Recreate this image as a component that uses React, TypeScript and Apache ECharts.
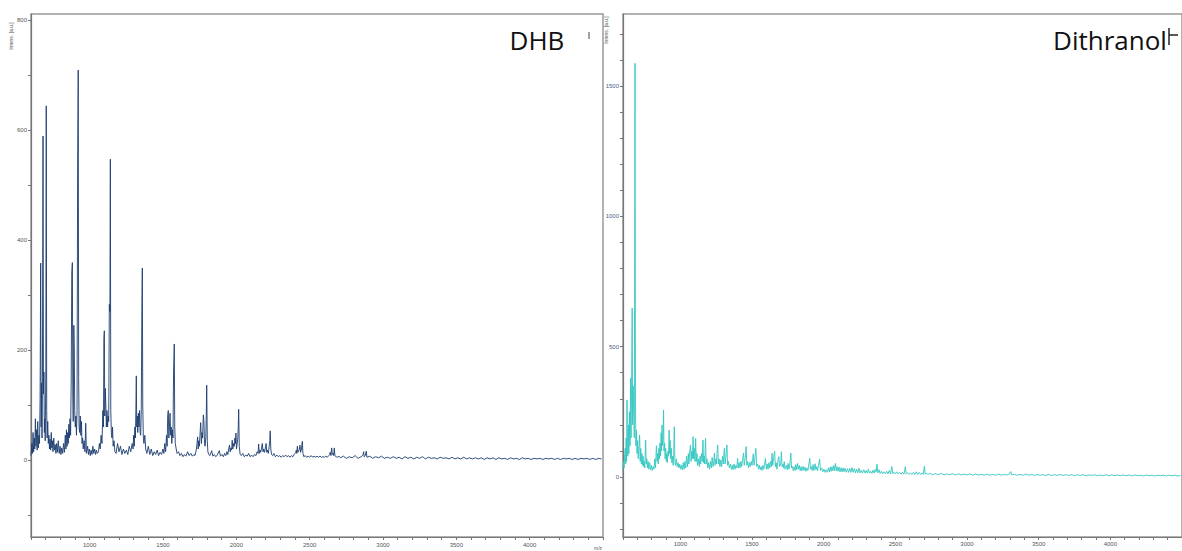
import React, { useEffect, useRef } from "react";
import * as echarts from "echarts";

// ---- DATA ----
const dhbTitle = "DHB";
const dithranolTitle = "Dithranol";
const yAxisName = "Intens. [a.u.]";
const xAxisName = "m/z";

const dhbYLabels = [0, 200, 400, 600, 800];
const dhbYTicks = [-100, 0, 100, 200, 300, 400, 500, 600, 700, 800];
const dithYLabels = [0, 500, 1000, 1500];
const dithYTicks = [-200, -100, 0, 100, 200, 300, 400, 500, 600, 700, 800, 900, 1000, 1100, 1200, 1300, 1400, 1500, 1600, 1700];
const xLabels = [1000, 1500, 2000, 2500, 3000, 3500, 4000];

// DHB spectrum [m/z, intensity]
const dhbLowMass: [number, number][] = [
  [600, 8], [606, 30], [610, 12], [614, 50], [618, 15], [622, 40], [626, 20], [630, 75], [634, 25], [638, 55],
  [642, 18], [646, 70], [650, 22], [654, 45], [658, 30], [662, 110], [666, 358], [669, 60], [672, 140], [675, 40],
  [678, 150], [682, 589], [685, 120], [688, 160], [691, 50], [694, 75], [697, 35], [701, 160], [704, 644], [707, 90],
  [710, 40], [714, 70], [718, 30], [722, 45], [726, 20], [730, 38], [734, 18], [738, 50], [742, 22], [746, 35],
  [750, 15], [755, 40], [760, 18], [765, 28], [770, 12], [775, 30], [780, 14], [786, 35], [792, 12], [798, 25],
  [804, 10], [810, 22], [816, 12], [822, 30], [828, 14], [834, 45], [838, 20], [842, 55], [846, 25], [850, 50],
  [854, 30], [858, 65], [862, 40], [866, 75], [870, 45], [874, 140], [878, 340], [882, 359], [885, 120], [888, 70],
  [892, 245], [895, 200], [898, 90], [902, 60], [906, 80], [910, 45], [914, 90], [918, 535], [922, 709], [925, 150],
  [928, 60], [932, 50], [936, 80], [940, 45], [944, 70], [948, 30], [952, 40], [956, 20], [962, 35], [968, 15],
  [973, 67], [978, 12], [986, 25], [992, 10], [998, 20], [1004, 8], [1010, 18], [1016, 10], [1022, 25], [1028, 12],
  [1034, 20], [1040, 10], [1046, 18], [1052, 12], [1060, 15], [1066, 30], [1072, 20], [1078, 45], [1084, 30], [1090, 90],
  [1094, 60], [1097, 220], [1100, 235], [1103, 80], [1107, 130], [1110, 100], [1114, 60], [1118, 90], [1122, 60], [1126, 80],
  [1130, 70], [1134, 283], [1138, 270], [1141, 547], [1144, 90], [1148, 50], [1152, 40], [1156, 60], [1160, 25], [1166, 35],
  [1172, 15], [1180, 12], [1190, 30], [1200, 15], [1210, 25], [1220, 10], [1230, 20], [1240, 12], [1250, 18], [1260, 10],
  [1270, 25], [1280, 15], [1290, 30], [1296, 20], [1300, 45], [1304, 25], [1308, 60], [1312, 40], [1315, 90], [1318, 153],
  [1321, 60], [1325, 80], [1328, 50], [1332, 85], [1336, 60], [1340, 90], [1344, 50], [1348, 45], [1352, 95], [1356, 280],
  [1359, 349], [1362, 100], [1366, 40], [1370, 30], [1376, 45], [1382, 20], [1390, 12], [1400, 25], [1410, 10], [1420, 20],
  [1430, 8], [1440, 15], [1450, 10], [1460, 18], [1470, 8], [1480, 14], [1490, 10], [1500, 20], [1506, 12], [1512, 30],
  [1518, 15], [1524, 45], [1528, 25], [1532, 80], [1536, 90], [1540, 40], [1544, 60], [1548, 85], [1552, 45], [1556, 60],
  [1560, 30], [1564, 55], [1568, 40], [1572, 160], [1577, 211], [1580, 60], [1584, 30], [1590, 20], [1596, 12],
];
const dhbMidMass: [number, number][] = [
  [1606, 15], [1616, 8], [1626, 12], [1636, 6], [1646, 10], [1656, 7], [1668, 15], [1678, 8], [1690, 12], [1700, 7],
  [1710, 10], [1718, 8], [1724, 15], [1728, 20], [1732, 30], [1736, 42], [1740, 20], [1744, 35], [1748, 25], [1752, 45],
  [1757, 68], [1762, 30], [1766, 50], [1770, 40], [1775, 82], [1779, 71], [1783, 30], [1787, 25], [1792, 40], [1795, 80],
  [1798, 136], [1802, 35], [1806, 15], [1812, 10], [1820, 8], [1832, 17], [1840, 7], [1850, 10], [1860, 6], [1870, 9],
  [1884, 17], [1892, 7], [1902, 10], [1912, 6], [1920, 12], [1928, 8], [1936, 15], [1942, 10], [1948, 20], [1953, 27],
  [1958, 15], [1963, 22], [1968, 18], [1972, 36], [1976, 20], [1982, 30], [1986, 25], [1990, 40], [1994, 30], [1997, 49],
  [2001, 20], [2006, 30], [2010, 40], [2013, 60], [2016, 92], [2020, 25], [2026, 10], [2034, 8], [2044, 12], [2054, 6],
  [2064, 9], [2074, 7], [2084, 12], [2094, 6], [2104, 9], [2114, 6], [2124, 10], [2134, 8], [2142, 15], [2148, 12],
  [2152, 29], [2156, 12], [2162, 18], [2166, 14], [2172, 22], [2177, 30], [2182, 15], [2186, 20], [2192, 14], [2198, 22],
  [2203, 30], [2207, 14], [2212, 18], [2218, 12], [2224, 25], [2228, 35], [2231, 53], [2235, 20], [2240, 10], [2248, 8],
  [2256, 12], [2266, 6], [2276, 9], [2286, 6], [2296, 8], [2306, 5], [2316, 8], [2326, 6], [2336, 9], [2346, 6],
  [2356, 8], [2366, 5], [2376, 8], [2386, 6], [2394, 10], [2400, 12], [2405, 14], [2409, 18], [2412, 12], [2416, 25],
  [2420, 14], [2425, 16], [2430, 20], [2434, 27], [2438, 14], [2444, 20], [2450, 34], [2454, 12], [2460, 6], [2470, 8],
  [2480, 5], [2490, 7], [2500, 5], [2510, 8], [2520, 5], [2530, 7], [2540, 5], [2550, 7], [2560, 5], [2570, 7],
  [2580, 5], [2590, 6], [2600, 5], [2610, 7], [2620, 5], [2630, 8], [2636, 10], [2640, 14], [2645, 8], [2650, 22],
  [2655, 10], [2660, 12], [2664, 8], [2668, 22], [2672, 8], [2680, 6], [2690, 5], [2700, 7],
];
const dhbTail: [number, number][] = [
  [2710, 4], [2730, 7], [2750, 3], [2770, 6], [2790, 4], [2810, 8], [2830, 3], [2850, 6], [2860, 8], [2864, 10],
  [2868, 15], [2872, 6], [2880, 9], [2886, 16], [2890, 5], [2910, 7], [2930, 3], [2950, 6], [2970, 4], [2990, 7],
  [3010, 3], [3030, 5], [3050, 3], [3070, 6], [3090, 3], [3110, 5], [3130, 2], [3150, 6], [3170, 3], [3190, 5],
  [3210, 2], [3230, 5], [3250, 3], [3270, 6], [3290, 2], [3310, 5], [3330, 3], [3350, 4], [3370, 2], [3390, 5],
  [3410, 3], [3430, 4], [3450, 2], [3470, 5], [3490, 2], [3510, 4], [3530, 2], [3550, 5], [3570, 2], [3590, 4],
  [3610, 2], [3630, 4], [3650, 2], [3670, 4], [3690, 1], [3710, 4], [3730, 2], [3750, 4], [3770, 1], [3790, 4],
  [3810, 2], [3830, 3], [3850, 1], [3870, 4], [3890, 2], [3910, 3], [3930, 1], [3950, 4], [3970, 2], [3990, 3],
  [4010, 1], [4030, 3], [4050, 2], [4070, 3], [4090, 1], [4110, 3], [4130, 2], [4150, 3], [4170, 1], [4190, 3],
  [4210, 1], [4230, 3], [4250, 2], [4270, 3], [4290, 1], [4310, 3], [4330, 1], [4350, 3], [4370, 2], [4390, 3],
  [4410, 1], [4430, 3], [4450, 1], [4470, 3], [4490, 2],
];

// Dithranol spectrum [m/z, intensity]
const dithLowMass: [number, number][] = [
  [600, 30], [604, 60], [608, 35], [612, 90], [616, 111], [619, 50], [622, 150], [625, 60], [628, 296], [631, 120],
  [634, 80], [638, 200], [641, 90], [645, 250], [649, 120], [653, 380], [656, 150], [660, 350], [664, 648], [667, 200],
  [671, 350], [675, 350], [679, 150], [684, 1587], [687, 280], [690, 120], [694, 180], [698, 90], [702, 140], [706, 70],
  [710, 100], [716, 161], [720, 60], [724, 110], [728, 50], [732, 90], [736, 45], [740, 80], [744, 40], [748, 60],
  [752, 35], [758, 142], [762, 50], [766, 70], [770, 35], [775, 60], [780, 30], [786, 55], [792, 28], [798, 45],
  [804, 25], [810, 40], [816, 30], [822, 70], [827, 35], [833, 120], [838, 60], [842, 90], [846, 50], [850, 110],
  [854, 70], [858, 130], [862, 80], [866, 170], [869, 100], [872, 200], [876, 120], [880, 150], [883, 257], [886, 100],
  [890, 130], [894, 70], [898, 110], [902, 60], [906, 90], [910, 55], [914, 100], [918, 80], [922, 180], [925, 90],
  [929, 140], [933, 70], [937, 110], [941, 55], [946, 80], [950, 45], [954, 90], [958, 193], [962, 60], [966, 45],
  [972, 70], [978, 40], [984, 55], [990, 35], [996, 50], [1002, 30], [1008, 45], [1014, 28], [1020, 55], [1026, 30],
  [1032, 60], [1038, 35], [1044, 80], [1050, 40], [1056, 90], [1060, 50], [1066, 100], [1071, 123], [1075, 60], [1080, 100],
  [1084, 70], [1089, 155], [1093, 70], [1098, 110], [1102, 60], [1107, 148], [1111, 60], [1116, 90], [1120, 45], [1126, 70],
  [1132, 40], [1138, 80], [1142, 50], [1148, 90], [1153, 60], [1158, 142], [1162, 55], [1166, 80], [1170, 50], [1176, 148],
  [1180, 50], [1186, 70], [1192, 35], [1198, 55], [1204, 30], [1210, 60], [1216, 35], [1222, 75], [1228, 40], [1233, 60],
  [1238, 92], [1242, 45], [1248, 70], [1252, 50], [1256, 90], [1261, 123], [1265, 50], [1270, 70], [1276, 40], [1282, 65],
  [1288, 40], [1294, 80], [1300, 50], [1307, 110], [1312, 50], [1318, 80], [1325, 123], [1330, 45], [1336, 60], [1342, 35],
  [1350, 50], [1356, 30], [1362, 45], [1368, 28], [1375, 50], [1382, 30], [1388, 45], [1394, 35], [1400, 71], [1405, 35],
  [1410, 55], [1416, 35], [1422, 60], [1428, 40], [1435, 70], [1441, 92], [1446, 45], [1452, 70], [1459, 117], [1464, 45],
  [1470, 60], [1476, 35], [1482, 55], [1488, 40], [1494, 60], [1500, 45], [1505, 70], [1509, 89], [1514, 45], [1520, 70],
  [1527, 110], [1532, 40], [1540, 50], [1546, 30], [1552, 45], [1558, 28], [1564, 40], [1570, 25], [1576, 45], [1582, 30],
  [1588, 50], [1594, 71], [1600, 30],
];
const dithMidMass: [number, number][] = [
  [1606, 50], [1612, 30], [1618, 55], [1624, 35], [1630, 60], [1635, 40], [1640, 92], [1645, 45], [1650, 70], [1658, 99],
  [1663, 40], [1668, 55], [1674, 30], [1680, 60], [1687, 78], [1692, 40], [1700, 50], [1705, 97], [1710, 40], [1716, 50],
  [1720, 35], [1725, 59], [1730, 30], [1740, 45], [1746, 28], [1752, 52], [1758, 30], [1764, 50], [1771, 92], [1776, 35],
  [1782, 40], [1788, 25], [1794, 40], [1800, 25], [1806, 48], [1812, 28], [1818, 52], [1824, 30], [1830, 44], [1836, 25],
  [1842, 40], [1848, 24], [1856, 41], [1862, 25], [1870, 38], [1876, 22], [1882, 35], [1890, 25], [1897, 50], [1903, 72],
  [1908, 30], [1914, 40], [1920, 25], [1926, 48], [1932, 25], [1940, 51], [1946, 28], [1952, 40], [1958, 25], [1964, 45],
  [1972, 68], [1978, 25], [1986, 35], [1994, 20], [2002, 30], [2010, 18], [2018, 28], [2026, 18], [2034, 35], [2040, 20],
  [2046, 38], [2052, 22], [2058, 40], [2064, 24], [2070, 44], [2076, 25], [2082, 52], [2088, 24], [2094, 40], [2100, 22],
  [2108, 38], [2114, 20], [2122, 36], [2128, 20], [2136, 35], [2142, 20], [2150, 34], [2158, 18], [2166, 32], [2174, 18],
  [2182, 34], [2190, 18], [2198, 36], [2206, 18], [2214, 32], [2222, 16], [2230, 30], [2238, 16], [2246, 34], [2254, 16],
  [2262, 26], [2270, 15], [2280, 28], [2288, 15], [2296, 25], [2304, 15], [2312, 30], [2320, 15], [2328, 22], [2336, 14],
  [2344, 26], [2352, 15], [2360, 30], [2366, 20], [2372, 50], [2378, 16], [2386, 28], [2394, 14], [2404, 22], [2412, 13],
  [2422, 20], [2430, 13], [2440, 22], [2448, 12], [2458, 25], [2466, 12], [2476, 40], [2482, 13], [2492, 18], [2500, 12],
  [2510, 20], [2520, 12], [2530, 18], [2540, 11], [2550, 18], [2560, 11], [2570, 40], [2576, 12], [2586, 16], [2596, 11],
  [2606, 15], [2616, 10], [2626, 18], [2636, 10], [2646, 20], [2656, 10], [2666, 18], [2676, 10], [2686, 16], [2694, 10],
  [2703, 42], [2708, 11], [2718, 14], [2728, 10],
];
const dithTail: [number, number][] = [
  [2740, 14], [2760, 9], [2780, 13], [2800, 9], [2820, 14], [2840, 8], [2860, 12], [2880, 9], [2900, 13], [2920, 8],
  [2940, 12], [2960, 8], [2980, 11], [3000, 8], [3020, 12], [3040, 7], [3060, 11], [3080, 8], [3100, 10], [3120, 7],
  [3140, 11], [3160, 7], [3180, 10], [3200, 7], [3220, 11], [3240, 7], [3260, 10], [3280, 8], [3296, 12], [3305, 21],
  [3312, 8], [3330, 10], [3350, 7], [3370, 10], [3390, 7], [3410, 11], [3430, 7], [3450, 10], [3470, 6], [3490, 10],
  [3510, 7], [3530, 9], [3550, 6], [3570, 10], [3590, 6], [3610, 9], [3630, 6], [3650, 10], [3670, 6], [3690, 9],
  [3710, 6], [3730, 9], [3750, 5], [3770, 9], [3790, 6], [3810, 9], [3830, 5], [3850, 8], [3870, 6], [3890, 9],
  [3910, 5], [3930, 8], [3950, 5], [3970, 9], [3990, 5], [4010, 8], [4030, 5], [4050, 8], [4070, 5], [4090, 8],
  [4110, 5], [4130, 8], [4150, 4], [4170, 8], [4190, 5], [4210, 7], [4230, 4], [4250, 8], [4270, 5], [4290, 7],
  [4310, 4], [4330, 7], [4350, 5], [4370, 7], [4390, 4], [4410, 7], [4430, 5], [4450, 7], [4470, 4], [4490, 6],
];

const dhbSpectrum = [...dhbLowMass, ...dhbMidMass, ...dhbTail];
const dithranolSpectrum = [...dithLowMass, ...dithMidMass, ...dithTail];

const plain = (v: number) => String(v);
const labelStyle = { fontSize: 6, color: "#555", fontFamily: "Liberation Sans, Arial, sans-serif", formatter: plain };

export default function App() {
  const ref = useRef<HTMLDivElement>(null);
  useEffect(() => {
    if (!ref.current) return;
    const chart = echarts.init(ref.current, null, { renderer: "svg" });
    const axisLine = { show: true, onZero: false, lineStyle: { color: "#777", width: 1.2 } };
    const tick = { show: true, length: 3, inside: false, lineStyle: { color: "#777" } };
    chart.setOption({
      animation: false,
      backgroundColor: "#fff",
      grid: [
        { left: 31, top: 14, width: 572, height: 523, show: true, borderColor: "#999", borderWidth: 1.5, containLabel: false },
        { left: 623, top: 14, width: 569, height: 523, show: true, borderColor: "#999", borderWidth: 1.5, containLabel: false },
      ],
      xAxis: [
        {
          type: "value", gridIndex: 0, min: 600, max: 4500, interval: 100,
          axisLine, axisTick: tick, splitLine: { show: false },
          axisLabel: { ...labelStyle, customValues: xLabels, margin: 5 },
        },
        {
          type: "value", gridIndex: 1, min: 600, max: 4500, interval: 100,
          axisLine, axisTick: tick, splitLine: { show: false },
          axisLabel: { ...labelStyle, customValues: xLabels, margin: 4 },
        },
      ],
      yAxis: [
        {
          type: "value", gridIndex: 0, min: -140, max: 811,
          axisLine, splitLine: { show: false },
          axisTick: { ...tick, customValues: dhbYTicks },
          axisLabel: { ...labelStyle, customValues: dhbYLabels, margin: 4 },
        },
        {
          type: "value", gridIndex: 1, min: -230, max: 1776,
          axisLine, splitLine: { show: false },
          axisTick: { ...tick, customValues: dithYTicks },
          axisLabel: { ...labelStyle, color: "#4a5b8c", customValues: dithYLabels, margin: 4 },
        },
      ],
      series: [
        {
          type: "line", xAxisIndex: 0, yAxisIndex: 0, data: dhbSpectrum, showSymbol: false, symbol: "none",
          lineStyle: { color: "#1b3c6e", width: 0.9 }, silent: true,
        },
        {
          type: "line", xAxisIndex: 1, yAxisIndex: 1, data: dithranolSpectrum, showSymbol: false, symbol: "none",
          lineStyle: { color: "#33c6c0", width: 0.9 }, silent: true,
        },
      ],
      graphic: [
        { type: "text", x: 537, y: 40, style: { text: dhbTitle, font: "26px 'Open Sans', sans-serif", fill: "#111", align: "center", verticalAlign: "middle" } },
        { type: "text", x: 1110, y: 40, style: { text: dithranolTitle, font: "26px 'Open Sans', sans-serif", fill: "#111", align: "center", verticalAlign: "middle" } },
        { type: "line", shape: { x1: 589, y1: 32, x2: 589, y2: 39 }, style: { stroke: "#444", lineWidth: 1 } },
        { type: "line", shape: { x1: 1169, y1: 28, x2: 1169, y2: 45 }, style: { stroke: "#222", lineWidth: 1.5 } },
        { type: "line", shape: { x1: 1169, y1: 35, x2: 1178, y2: 35 }, style: { stroke: "#222", lineWidth: 1.5 } },
        { type: "text", x: 11, y: 36, rotation: Math.PI / 2, style: { text: yAxisName, font: "5px 'Liberation Sans', sans-serif", fill: "#555", align: "center", verticalAlign: "middle" } },
        { type: "text", x: 606, y: 30, rotation: Math.PI / 2, style: { text: yAxisName, font: "5px 'Liberation Sans', sans-serif", fill: "#555", align: "center", verticalAlign: "middle" } },
        { type: "text", x: 598, y: 548, style: { text: xAxisName, font: "5px 'Liberation Sans', sans-serif", fill: "#555", align: "center", verticalAlign: "middle" } },
      ],
    });
    return () => chart.dispose();
  }, []);
  return <div ref={ref} style={{ position: "fixed", left: 0, top: 0, width: 1182, height: 551 }} />;
}
